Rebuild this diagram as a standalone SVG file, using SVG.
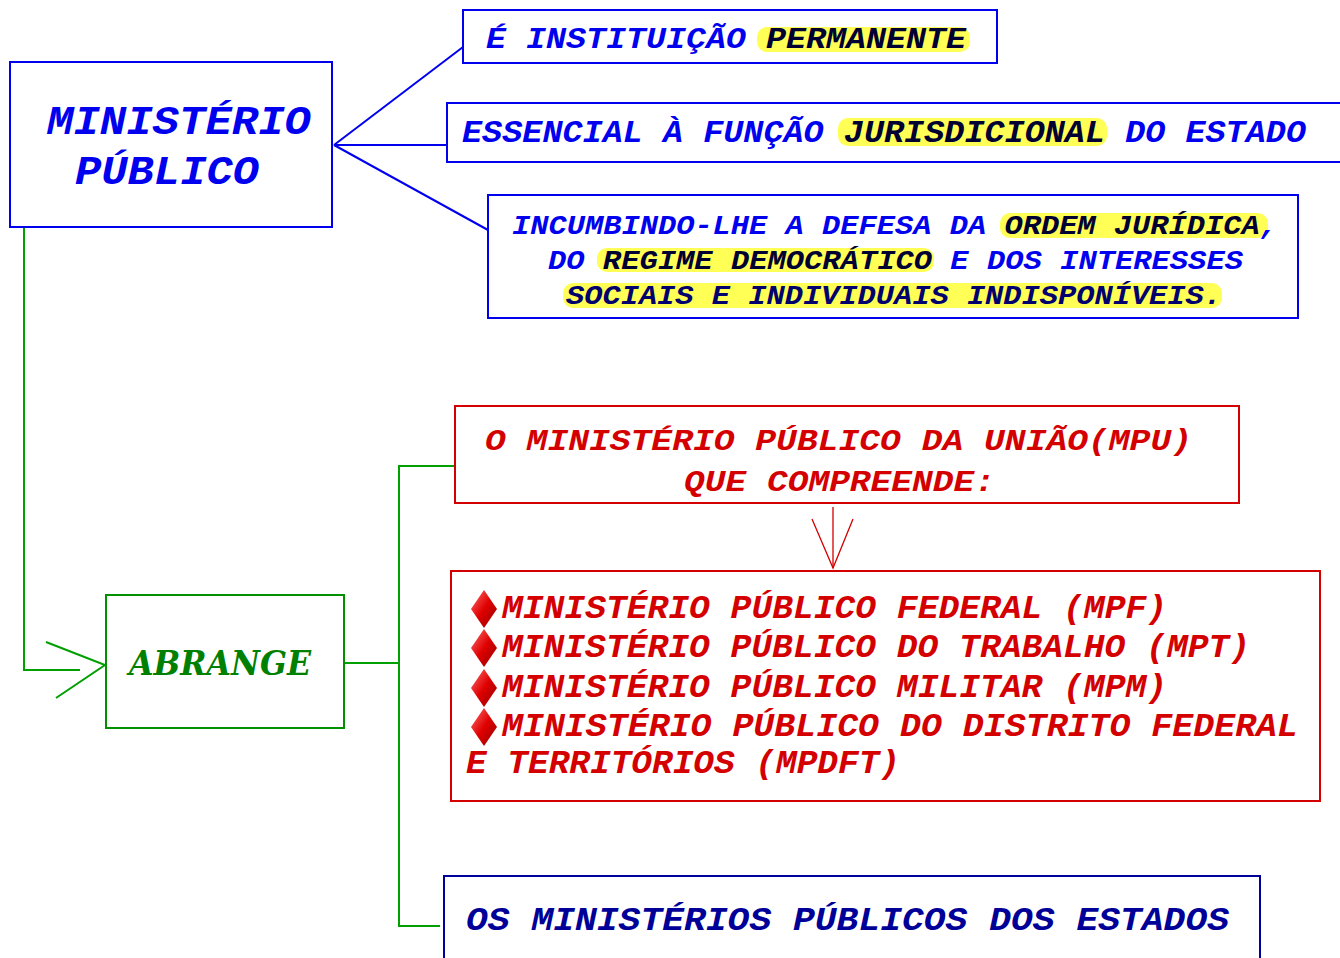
<svg xmlns="http://www.w3.org/2000/svg" width="1340" height="958" viewBox="0 0 1340 958">
<style>
.mono{font-family:"Liberation Mono","Courier New",monospace;font-weight:bold;font-style:italic}
.blue{fill:#0000ee}
.red{fill:#d40000}
.navy{fill:#000099}
.dark{fill:#000033}
.bbox{fill:#fff;stroke:#0000ee;stroke-width:2}
.rbox{fill:#fff;stroke:#d40000;stroke-width:2}
.gbox{fill:#fff;stroke:#009000;stroke-width:2}
.nbox{fill:#fff;stroke:#00009a;stroke-width:2}
.hl{fill:#ffff55}
.bl{stroke:#0000ee;stroke-width:2;fill:none}
.gl{stroke:#00a000;stroke-width:2;fill:none}
.rl{stroke:#d40000;stroke-width:1.3;fill:none}
</style>
<defs>
<linearGradient id="dia" x1="0" y1="0" x2="1" y2="1">
<stop offset="0" stop-color="#ff7070"/>
<stop offset="0.5" stop-color="#e00000"/>
<stop offset="1" stop-color="#900000"/>
</linearGradient>
<polygon id="diamond" points="0,-19 13,0 0,19 -13,0" fill="url(#dia)"/>
</defs>
<rect width="1340" height="958" fill="#fff"/>
<g id="connectors">
<line class="bl" x1="334" y1="145" x2="463" y2="47"/>
<line class="bl" x1="334" y1="145" x2="447" y2="145"/>
<line class="bl" x1="334" y1="145" x2="488" y2="230"/>
<polyline class="gl" points="24,227 24,670 80,670"/>
<polyline class="gl" points="46,642 105,665 56,698"/>
<polyline class="gl" points="344,663 399,663"/>
<polyline class="gl" points="455,466 399,466 399,926 440,926"/>
<line class="rl" x1="833" y1="507" x2="833" y2="568"/>
<polyline class="rl" points="812,519 833,568 853,519"/>
</g>
<g id="node-mp">
<rect class="bbox" x="10" y="62" width="322" height="165"/>
<text class="mono blue" x="47" y="134" font-size="40" textLength="264" lengthAdjust="spacingAndGlyphs">MINISTÉRIO</text>
<text class="mono blue" x="75" y="184" font-size="40" textLength="184" lengthAdjust="spacingAndGlyphs">PÚBLICO</text>
</g>
<g id="node-permanente">
<rect class="bbox" x="463" y="10" width="534" height="53"/>
<rect class="hl" x="757" y="27" width="213" height="25" rx="10"/>
<text class="mono" x="486" y="48" font-size="30" textLength="480" lengthAdjust="spacingAndGlyphs"><tspan class="blue">É INSTITUIÇÃO </tspan><tspan class="dark">PERMANENTE</tspan></text>
</g>
<g id="node-essencial">
<rect class="bbox" x="447" y="103" width="900" height="59"/>
<rect class="hl" x="838" y="118" width="269" height="28" rx="10"/>
<text class="mono" x="462" y="142" font-size="31" textLength="844" lengthAdjust="spacingAndGlyphs"><tspan class="blue">ESSENCIAL À FUNÇÃO </tspan><tspan class="dark">JURISDICIONAL</tspan><tspan class="blue"> DO ESTADO</tspan></text>
</g>
<g id="node-incumbindo">
<rect class="bbox" x="488" y="195" width="810" height="123"/>
<rect class="hl" x="1000" y="213" width="268" height="25" rx="10"/>
<rect class="hl" x="597" y="248" width="337" height="24" rx="10"/>
<rect class="hl" x="563" y="283" width="659" height="25" rx="10"/>
<text class="mono" x="512" y="234" font-size="27" textLength="766" lengthAdjust="spacingAndGlyphs"><tspan class="blue">INCUMBINDO-LHE A DEFESA DA </tspan><tspan class="dark">ORDEM JURÍDICA</tspan><tspan class="blue">,</tspan></text>
<text class="mono" x="548" y="269" font-size="27" textLength="695" lengthAdjust="spacingAndGlyphs"><tspan class="blue">DO </tspan><tspan class="dark">REGIME DEMOCRÁTICO</tspan><tspan class="blue"> E DOS INTERESSES</tspan></text>
<text class="mono" x="566" y="304" font-size="27" fill="#00006e" textLength="656" lengthAdjust="spacingAndGlyphs">SOCIAIS E INDIVIDUAIS INDISPONÍVEIS.</text>
</g>
<g id="node-abrange">
<rect class="gbox" x="106" y="595" width="238" height="133"/>
<text x="129" y="675" font-family="'DejaVu Serif','Liberation Serif',serif" font-weight="bold" font-style="italic" font-size="34" fill="#008000" textLength="182" lengthAdjust="spacingAndGlyphs">ABRANGE</text>
</g>
<g id="node-mpu">
<rect class="rbox" x="455" y="406" width="784" height="97"/>
<text class="mono red" x="485" y="450" font-size="29" textLength="707" lengthAdjust="spacingAndGlyphs">O MINISTÉRIO PÚBLICO DA UNIÃO(MPU)</text>
<text class="mono red" x="684" y="491" font-size="29" textLength="311" lengthAdjust="spacingAndGlyphs">QUE COMPREENDE:</text>
</g>
<g id="node-lista">
<rect class="rbox" x="451" y="571" width="869" height="230"/>
<use href="#diamond" x="484" y="609"/>
<use href="#diamond" x="484" y="648"/>
<use href="#diamond" x="484" y="688"/>
<use href="#diamond" x="484" y="727"/>
<text class="mono red" x="502" y="618" font-size="33" textLength="665" lengthAdjust="spacingAndGlyphs">MINISTÉRIO PÚBLICO FEDERAL (MPF)</text>
<text class="mono red" x="502" y="657" font-size="33" textLength="748" lengthAdjust="spacingAndGlyphs">MINISTÉRIO PÚBLICO DO TRABALHO (MPT)</text>
<text class="mono red" x="502" y="697" font-size="33" textLength="665" lengthAdjust="spacingAndGlyphs">MINISTÉRIO PÚBLICO MILITAR (MPM)</text>
<text class="mono red" x="502" y="736" font-size="33" textLength="796" lengthAdjust="spacingAndGlyphs">MINISTÉRIO PÚBLICO DO DISTRITO FEDERAL</text>
<text class="mono red" x="466" y="773" font-size="33" textLength="434" lengthAdjust="spacingAndGlyphs">E TERRITÓRIOS (MPDFT)</text>
</g>
<g id="node-estados">
<rect class="nbox" x="444" y="876" width="816" height="100"/>
<text class="mono navy" x="466" y="930" font-size="34" textLength="763" lengthAdjust="spacingAndGlyphs">OS MINISTÉRIOS PÚBLICOS DOS ESTADOS</text>
</g>
</svg>
